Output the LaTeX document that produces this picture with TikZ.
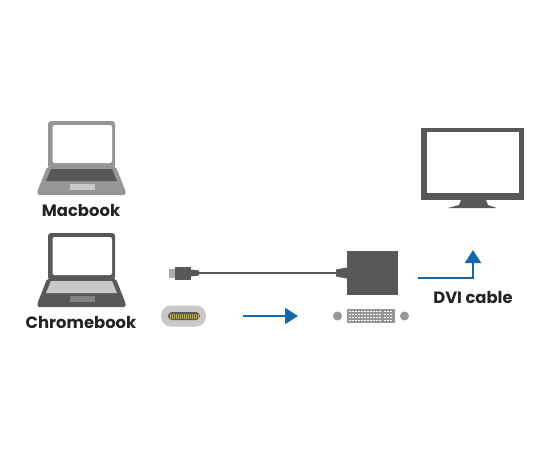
\documentclass[tikz,border=0pt]{standalone}
\usepackage{fontspec}
\setmainfont{Poppins}
\usepackage{xcolor}
\usetikzlibrary{arrows.meta,positioning,calc}
\definecolor{ink}{RGB}{35,35,35}
\definecolor{slate}{RGB}{88,88,90}
\definecolor{midgray}{RGB}{150,150,152}
\definecolor{lightgray}{RGB}{200,200,202}
\definecolor{cableblue}{RGB}{20,105,170}
\definecolor{pingold}{RGB}{190,175,95}
\tikzset{
  caption/.style={font=\bfseries\fontsize{16.4}{18}\selectfont,text=ink,inner sep=0pt},
  box/.style={rectangle,inner sep=0pt,minimum width=#1},
  flow/.style={line width=2.2pt,cableblue,-{Triangle[length=13pt,width=16pt]}},
  lead/.style={line width=2pt,slate},
  dvipin/.style={circle,fill=midgray,inner sep=0pt,minimum size=9pt}
}
\newcommand{\drawlaptop}[4]{% origin x, origin y, body colour, deck colour
  \begin{scope}[shift={(#1,#2)}]
    \fill[#3,rounded corners=3pt] (48,121) rectangle (115,168);
    \fill[white,rounded corners=2pt] (52.5,125) rectangle (112,163);
    \fill[#3,rounded corners=1.5pt] (47,167) -- (116,167) -- (125.5,191) -- (125.5,195) -- (37.5,195) -- (37.5,191) -- cycle;
    \fill[#4] (51,169) -- (112,169) -- (117,181) -- (46,181) -- cycle;
  \end{scope}}
\begin{document}
\begin{tikzpicture}[x=1pt,y=-1pt]
  \useasboundingbox (0,0) rectangle (550,450);
  % laptops
  \drawlaptop{0}{0}{midgray}{slate}
  \fill[lightgray] (70,184) rectangle (95,190);
  \drawlaptop{0}{112}{slate}{lightgray}
  \fill[midgray!70!slate] (70,296) rectangle (95,302);
  \node[caption] (macbook) at (81,210) {Macbook};
  \node[caption] (chromebook) at (81,322) {Chromebook};
  % monitor
  \fill[slate] (421,128) rectangle (524,200);
  \fill[white] (427,131.5) rectangle (519,192.5);
  \fill[slate] (461,200) -- (486,200) -- (488,205) -- (497,208) -- (448,208) -- (459,205) -- cycle;
  % cable and adapter
  \node[box=6pt,minimum height=9pt,fill=midgray!80!white] (tip) at (172,273) {};
  \node[box=16pt,minimum height=13pt,fill=slate] (plug) at (183,273) {};
  \fill[slate] (191,269.5) -- (199,270.5) -- (199,275.5) -- (191,276.5) -- cycle;
  \node[box=51pt,minimum height=44pt,fill=slate] (adapter) at (372.5,273) {};
  \fill[slate] (336,269.5) -- (347,267.5) -- (347,278.5) -- (336,276.5) -- cycle;
  \draw[lead] (plug.east) -- (adapter.west);
  % usb-c end
  \node[box=45pt,minimum height=21pt,rounded corners=10pt,fill=lightgray] (usbc) at (183.5,316) {};
  \node[box=32pt,minimum height=8pt,rounded corners=4pt,fill=slate] (socket) at (184,316) {};
  \foreach \x in {170,172,...,198} {\draw[pingold,line width=1pt] (\x,313.5)--(\x,318.5);}
  % dvi end
  \node[box=48pt,minimum height=14pt,fill=midgray] (dvi) at (371,316) {};
  \node[dvipin] (screwl) at (337.5,316) {};
  \node[dvipin] (screwr) at (404.5,316) {};
  \foreach \y in {311.5,314.5,317.5,320.5} {
    \foreach \x in {349,352,...,379} {\fill[white] (\x,\y-0.7) rectangle (\x+1.6,\y+0.7);}
    \foreach \x in {384,387,390} {\fill[white] (\x,\y-0.7) rectangle (\x+1.6,\y+0.7);}
  }
  % arrows
  \coordinate (flowa) at (243,316);
  \coordinate (flowb) at (298,316);
  \draw[flow] (flowa) -- (flowb);
  \coordinate (upa) at (418,278);
  \coordinate (upb) at (473,250);
  \draw[flow] (upa) -| (upb);
  \node[caption] (dvilabel) at (473,297) {DVI cable};
\end{tikzpicture}
\end{document}
